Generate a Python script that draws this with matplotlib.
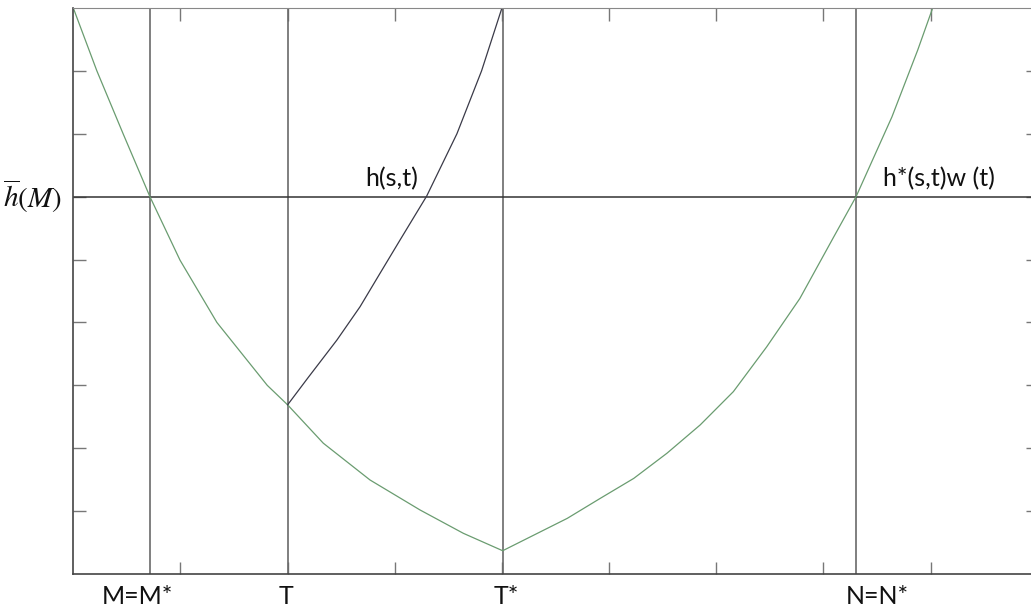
import matplotlib.pyplot as plt

# Кривые (единица = одно деление оси)
green_x = [0.0, 0.22, 0.465, 0.715, 0.996, 1.34, 1.81, 2.0,
           2.333, 2.769, 3.236, 3.64, 4.007,
           4.61, 4.915, 5.23, 5.54, 5.85, 6.16, 6.47, 6.78, 7.09, 7.305, 7.64, 7.88, 8.02]
green_y = [9.0, 8.0, 7.0, 6.0, 4.99, 4.0, 3.0, 2.69,
           2.08, 1.495, 1.018, 0.647, 0.37,
           0.885, 1.20, 1.52, 1.92, 2.37, 2.90, 3.61, 4.38, 5.34, 6.0, 7.27, 8.33, 9.0]

black_x = [2.0, 2.19, 2.46, 2.676, 2.862, 3.049, 3.298, 3.58, 3.81, 4.0]
black_y = [2.69, 3.12, 3.72, 4.25, 4.78, 5.31, 6.01, 7.0, 8.0, 9.0]

# Вертикальные линии и уровень h(M)
v_names = ['M=M*', 'T', 'T*', 'N=N*']
v_x = [0.715, 2.0, 4.007, 7.307]
h_level = 6.0

fig = plt.figure(figsize=(10.31, 6.07), dpi=100)
W, H = 1031, 607
ax = fig.add_axes([73.3 / W, 33 / H, 964.4 / W, 566 / H])
ax.set_xlim(0, 9)
ax.set_ylim(0, 9)

for x in v_x:
    ax.axvline(x, color='#6a6a6a', lw=1.2)
ax.axhline(h_level, color='#333333', lw=1.1)

ax.plot(green_x, green_y, color='#6a9c70', lw=0.9)
ax.plot(black_x, black_y, color='#3a3a48', lw=0.9)

ax.set_xticks(range(1, 9))
ax.set_yticks(range(1, 9))
ax.tick_params(direction='in', length=9, width=1, color='#777777',
               top=True, right=True, labelbottom=False, labelleft=False)
for side in ['left', 'bottom']:
    ax.spines[side].set_color('#444444')
    ax.spines[side].set_linewidth(1.2)
for side in ['top', 'right']:
    ax.spines[side].set_color('#888888')

fnt = dict(family='Lato', fontsize=18, color='#111111')
label_x = [0.60, 1.985, 4.04, 7.50]
for name, lx in zip(v_names, label_x):
    ax.text(lx, -0.35, name, ha='center', va='center', clip_on=False, **fnt)

ax.text(2.97, 6.16, 'h(s,t)', ha='center', va='baseline', **fnt)
ax.text(7.56, 6.16, 'h*(s,t)w (t)', ha='left', va='baseline', **fnt)

plt.rcParams['mathtext.fontset'] = 'stix'
fig.text(62 / W, 1 - 196 / H, r'$\overline{h}(M)$', ha='right', va='center',
         fontsize=21, color='#111111')

fig.savefig('out.png', dpi=100)
